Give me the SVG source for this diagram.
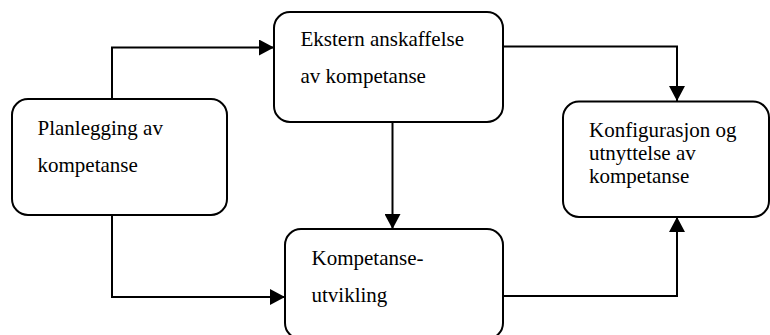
<svg xmlns="http://www.w3.org/2000/svg" width="770" height="335" viewBox="0 0 770 335">
<style>
.box{fill:#fff;stroke:#000;stroke-width:2}
.con{fill:none;stroke:#000;stroke-width:2}
text{font-family:Liberation Serif, Times New Roman, Times, Noto Serif, DejaVu Serif, serif;font-size:21px;fill:#000}
</style>
<defs>
<marker id="arr" viewBox="0 0 15 16" refX="15" refY="8" markerWidth="15" markerHeight="16" markerUnits="userSpaceOnUse" orient="auto">
<path d="M0,0 L15,8 L0,16 z" fill="#000"/>
</marker>
</defs>
<rect width="770" height="335" fill="#fff"/>
<g id="connectors">
<path class="con" d="M112,99 V47.5 H274" marker-end="url(#arr)"/>
<path class="con" d="M503,46.5 H677 V101" marker-end="url(#arr)"/>
<path class="con" d="M392.5,122 V229" marker-end="url(#arr)"/>
<path class="con" d="M112,215 V297 H285" marker-end="url(#arr)"/>
<path class="con" d="M503,296 H677 V217" marker-end="url(#arr)"/>
</g>
<g id="planlegging">
<rect class="box" x="12" y="99" width="215" height="116" rx="16"/>
<text x="37.5" y="135">Planlegging av</text>
<text x="37.5" y="172">kompetanse</text>
</g>
<g id="ekstern">
<rect class="box" x="274" y="12" width="229" height="110" rx="16"/>
<text x="300.5" y="46">Ekstern anskaffelse</text>
<text x="300.5" y="83">av kompetanse</text>
</g>
<g id="konfigurasjon">
<rect class="box" x="563" y="101.5" width="206" height="115.5" rx="16"/>
<text x="589" y="137">Konfigurasjon og</text>
<text x="589" y="160">utnyttelse av</text>
<text x="589" y="183">kompetanse</text>
</g>
<g id="utvikling">
<rect class="box" x="285" y="229" width="218" height="110" rx="16"/>
<text x="311.5" y="265">Kompetanse-</text>
<text x="311.5" y="302">utvikling</text>
</g>
</svg>
